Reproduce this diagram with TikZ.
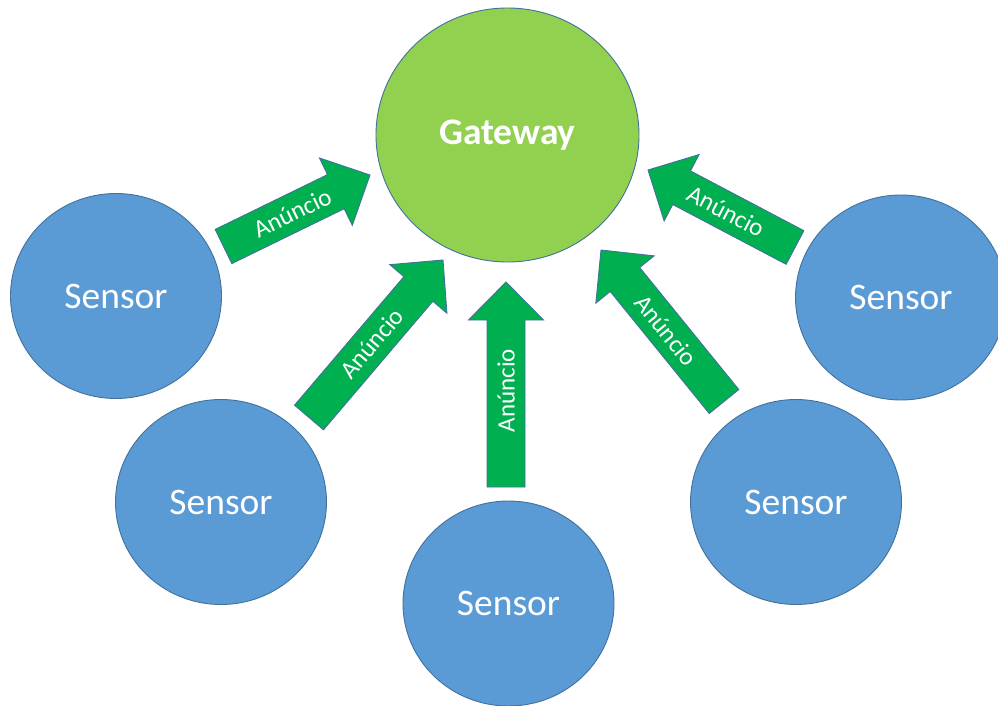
\documentclass[tikz,border=0pt]{standalone}
\usepackage{fontspec}
\setmainfont{Carlito}
\usetikzlibrary{calc,shapes.geometric}

\definecolor{sensorblue}{HTML}{5B9BD5}
\definecolor{gatewaygreen}{HTML}{92D050}
\definecolor{arrowgreen}{HTML}{00B050}
\definecolor{edgeblue}{HTML}{41719C}

\tikzset{
  sensor/.style={ellipse, draw=edgeblue, line width=0.9pt, fill=sensorblue,
    minimum width=211pt, minimum height=205pt, inner sep=0pt,
    text=white, font=\fontsize{37.5}{40}\selectfont},
  gateway/.style={ellipse, draw=edgeblue, line width=0.9pt, fill=gatewaygreen,
    minimum width=263pt, minimum height=254pt, inner sep=0pt,
    text=white, font=\bfseries\fontsize{37.5}{40}\selectfont},
  blockarrow/.style={draw=edgeblue, line width=0.9pt, fill=arrowgreen, line join=miter},
  arrowlabel/.style={text=white, inner sep=0pt, font=\fontsize{25}{28}\selectfont}
}

% Block arrow from tail coordinate #1 to tip coordinate #2,
% shaft width 38, head width 75, head length 38; label node #3 at angle #4
\newcommand\blockarrow[4]{%
  \coordinate (#1-hb) at ($(#2)!38pt!(#1)$);
  \draw[blockarrow]
    ($(#1)!19pt!90:(#2)$) --
    ($(#1-hb)!19pt!90:(#2)$) --
    ($(#1-hb)!37.5pt!90:(#2)$) --
    (#2) --
    ($(#1-hb)!37.5pt!-90:(#2)$) --
    ($(#1-hb)!19pt!-90:(#2)$) --
    ($(#1)!19pt!-90:(#2)$) -- cycle;
  \node[arrowlabel, rotate=#4] (#3) at ($(#1)!0.47!(#2)$) {Anúncio};
}

\begin{document}
\begin{tikzpicture}[x=1pt, y=-1pt]
  \fill[white] (0,0) rectangle (998,706);
  \useasboundingbox (0,0) rectangle (998,706);

  % gateway and sensors
  \node[gateway] (gw) at (507.5,135) {Gateway};
  \node[sensor] (s1) at (116,296) {Sensor};
  \node[sensor] (s2) at (221,502) {Sensor};
  \node[sensor] (s3) at (508.5,603.5) {Sensor};
  \node[sensor] (s4) at (796,502) {Sensor};
  \node[sensor] (s5) at (901,297.5) {Sensor};

  % arrow ends
  \coordinate (t1) at (223.5,246.5); \coordinate (h1) at (370,175);
  \coordinate (t2) at (309,417.5);   \coordinate (h2) at (443,260);
  \coordinate (t3) at (506,487);     \coordinate (h3) at (506,282);
  \coordinate (t4) at (724,401.5);   \coordinate (h4) at (601,250);
  \coordinate (t5) at (795,247.5);   \coordinate (h5) at (648,170);

  % announcement arrows
  \blockarrow{t1}{h1}{l1}{26}
  \blockarrow{t2}{h2}{l2}{49.6}
  \blockarrow{t3}{h3}{l3}{90}
  \blockarrow{t4}{h4}{l4}{-51.2}
  \blockarrow{t5}{h5}{l5}{-27.8}
\end{tikzpicture}
\end{document}
